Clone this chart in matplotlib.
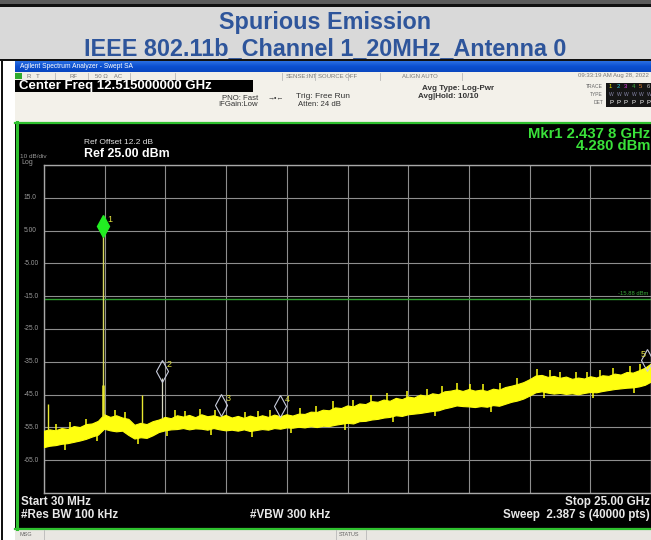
import numpy as np
import matplotlib
matplotlib.use('Agg')
import matplotlib.pyplot as plt
from matplotlib.patches import Rectangle
from matplotlib.transforms import offset_copy

plt.rcParams['font.family'] = ['Liberation Sans', 'DejaVu Sans']

# ---- chart values ----
title_lines = ["Spurious Emission", "IEEE 802.11b_Channel 1_20MHz_Antenna 0"]
start_ghz, stop_ghz = 0.03, 25.0
ref_level_dbm, db_per_div = 25.0, 10.0
y_tick_labels = ["15.0", "5.00", "-5.00", "-15.0", "-25.0", "-35.0", "-45.0", "-55.0", "-65.0"]
display_line_dbm = -15.88

# noise floor envelope (top / bottom of the yellow band), every 0.25 GHz
noise_freq_ghz = [0.03] + [0.25 * k for k in range(1, 101)]
noise_top_dbm = [
    -56.0, -55.6, -55.9, -55.2, -55.5, -54.6, -54.9, -54.0, -53.8, -53.0,
    -51.0, -51.8, -51.3, -52.0, -52.4, -54.2, -53.6, -54.0, -53.1, -52.6,
    -51.8, -52.2, -51.3, -51.7, -51.2, -51.9, -51.0, -51.6, -51.3, -51.8,
    -51.2, -52.0, -51.5, -52.1, -51.4, -51.9, -51.3, -51.8, -51.1, -51.6,
    -51.0, -51.4, -50.8, -50.9, -50.2, -50.3, -49.6, -49.8, -48.9, -49.1,
    -48.3, -48.6, -47.7, -47.9, -47.0, -47.2, -46.5, -46.9, -46.0, -46.4,
    -45.6, -45.9, -45.0, -45.4, -44.6, -44.9, -44.0, -43.8, -43.4, -43.9,
    -43.3, -43.8, -43.5, -43.9, -43.2, -43.5, -42.7, -42.3, -41.8, -41.2,
    -40.3, -39.2, -39.0, -39.6, -39.3, -39.9, -39.5, -40.2, -39.8, -40.1,
    -39.4, -39.8, -39.1, -39.3, -38.6, -38.9, -38.1, -38.3, -37.6, -36.8,
    -35.5,
]
noise_bottom_dbm = [
    -61.0, -60.6, -60.4, -60.0, -59.8, -59.4, -59.0, -58.5, -57.8, -57.2,
    -55.4, -55.9, -56.2, -56.0, -57.3, -58.4, -58.0, -58.2, -57.4, -56.4,
    -55.9, -55.6, -55.5, -55.2, -55.6, -55.3, -55.4, -55.7, -55.2, -55.6,
    -55.9, -55.7, -56.0, -55.6, -56.1, -55.8, -55.5, -55.7, -55.2, -55.4,
    -55.0, -55.1, -54.8, -55.0, -54.6, -54.9, -54.5, -54.6, -54.2, -53.9,
    -53.6, -53.8, -53.1, -53.0, -52.6, -52.4, -52.0, -51.8, -51.3, -51.5,
    -51.0, -50.8, -50.6, -50.3, -50.0, -49.8, -49.2, -48.8, -48.3, -48.5,
    -48.6, -48.8, -48.5, -48.7, -48.2, -48.4, -47.8, -47.2, -46.8, -46.2,
    -45.3, -44.3, -44.0, -44.4, -44.7, -44.5, -44.8, -44.6, -44.9, -44.5,
    -44.2, -44.3, -43.9, -43.6, -43.3, -43.1, -42.9, -42.8, -42.5, -42.0,
    -41.0,
]

# short noise peaks poking out of the band (tips)
grass_up_ghz = [0.52, 1.10, 1.75, 2.95, 3.36, 5.42, 5.83, 6.45, 7.05, 8.30, 8.85, 9.33,
                10.56, 11.20, 11.92, 12.74, 13.50, 14.14, 14.96, 15.78, 16.40, 17.00,
                17.55, 18.10, 18.79, 19.49, 20.30, 20.85, 21.26, 21.90, 22.37, 22.90,
                23.44, 24.14, 24.55]
grass_up_dbm = [-54.0, -53.4, -52.3, -49.6, -50.2, -49.8, -50.0, -49.3, -49.8, -50.2,
                -50.0, -49.8, -49.0, -48.4, -47.0, -46.6, -45.2, -44.5, -43.8, -43.2,
                -42.3, -41.6, -41.7, -41.8, -41.5, -40.0, -37.3, -37.6, -38.0, -38.2,
                -38.1, -37.4, -36.9, -36.3, -35.6]
grass_down_ghz = [0.90, 2.20, 3.90, 5.10, 6.90, 8.60, 10.20, 12.40, 14.40, 16.10, 18.40,
                  20.60, 22.60, 24.30]
grass_down_dbm = [-62.0, -59.0, -60.0, -57.6, -57.2, -57.8, -56.8, -55.9, -53.4, -51.6,
                  -50.3, -45.9, -46.0, -44.6]

# discrete spurs standing above the floor
spur_freq_ghz = [0.20, 4.06, 4.875]
spur_top_dbm = [-48.0, -45.0, -39.9]

# markers 1..5
marker_ids = ["1", "2", "3", "4", "5"]
marker_freq_ghz = [2.4378, 4.875, 7.312, 9.75, 24.84]
marker_dbm = [4.28, -39.9, -50.3, -50.6, -36.6]

W, H = 651, 540
fig = plt.figure(figsize=(W / 100, H / 100), dpi=100)
bg = fig.add_axes([0, 0, 1, 1])
bg.set_xlim(0, W)
bg.set_ylim(H, 0)
bg.axis('off')


def rect(x0, y0, x1, y1, color, z=0, **kw):
    bg.add_patch(Rectangle((x0, y0), x1 - x0, y1 - y0, facecolor=color,
                           edgecolor='none', zorder=z, **kw))


# report page: title box
rect(0, 0, W, 4, '#5c5c5c')
rect(0, 4, W, 7, '#111111')
rect(0, 7, W, 60, '#d9d9d9')
rect(0, 59, W, 61, '#111111')
rect(0, 61, W, H, 'white')
rect(0.5, 61, 2.5, H, '#111111')
bg.text(W / 2, 28.5, title_lines[0], ha='center', va='baseline', fontsize=16.8,
        fontweight='bold', color='#2e559b')
bg.text(W / 2, 55, title_lines[1], ha='center', va='baseline', fontsize=16.8,
        fontweight='bold', color='#2e559b')

# analyzer window chrome
grad = np.linspace(0, 1, 20).reshape(-1, 1)
bg.imshow(grad, extent=(15, W, 72, 61), cmap=matplotlib.colors.LinearSegmentedColormap.from_list(
    'xpbar', ['#2a6ee0', '#0b4fd0', '#0846c0']), aspect='auto', zorder=1)
bg.text(20, 66.5, "Agilent Spectrum Analyzer - Swept SA", fontsize=4.8, color='white',
        va='center', zorder=2)
rect(15, 72, W, 80, '#f1efe8', z=1)
rect(15, 73, 22, 79, '#2faa2f', z=2)
tool_labels = [(27, "R   T"), (70, "RF"), (95, "50 \u03a9    AC"), (286, "SENSE:INT"),
               (318, "SOURCE OFF"), (402, "ALIGN AUTO")]
for x, s in tool_labels:
    bg.text(x, 76, s, fontsize=4.3, color='#777777', va='center', zorder=2)
for x in [55, 88, 130, 175, 282, 315, 348, 380, 462]:
    bg.plot([x, x], [72.5, 79.5], color='#b8b8b8', lw=0.6, zorder=2)
bg.text(649, 76, "09:33:19 AM Aug 28, 2022", fontsize=4.3, color='#777777', va='center',
        ha='right', zorder=2)

rect(15, 80, W, 122, '#f3f1ea', z=1)
rect(15, 80, 253, 92, 'black', z=2)
bg.text(19, 86.5, "Center Freq 12.515000000 GHz", fontsize=9.5, fontweight='bold',
        color='white', va='center', zorder=3)
bg.text(222, 98, "PNO: Fast", fontsize=5.6, color='#333333', va='center', zorder=3)
bg.text(218, 105, "IFGain:Low", fontsize=5.6, color='#333333', va='center', zorder=3)
bg.text(268, 98, "\u2192\u2022\u2190", fontsize=5, color='#333333', va='center', zorder=3)
bg.text(296, 97, "Trig: Free Run", fontsize=6.0, color='#333333', va='center', zorder=3)
bg.text(298, 105, "Atten: 24 dB", fontsize=5.6, color='#333333', va='center', zorder=3)
bg.text(422, 89, "Avg Type: Log-Pwr", fontsize=5.8, fontweight='bold', color='#333333',
        va='center', zorder=3)
bg.text(418, 96.5, "Avg|Hold: 10/10", fontsize=5.8, fontweight='bold', color='#333333',
        va='center', zorder=3)
for y, s in [(87, "TRACE"), (95, "TYPE"), (103, "DET")]:
    bg.text(603, y, s, fontsize=3.6, color='#666666', va='center', ha='right', zorder=3)
rect(606, 83, W, 107, '#151515', z=2)
trace_colors = ['#f0f000', '#30d0e0', '#e040e0', '#40b040', '#e08030', '#c0c0c0']
for i, c in enumerate(trace_colors):
    bg.text(609 + i * 7.5, 87, str(i + 1), fontsize=4.3, color=c, va='center', zorder=3)
    bg.text(609 + i * 7.5, 95, "W", fontsize=3.6, color='#8888aa', va='center', zorder=3)
    bg.text(609 + i * 7.5, 103, "P", fontsize=4.3, color='white', va='center', zorder=3)

# display area
rect(15, 122, W, 529, 'black', z=1)
bg.plot([15, W], [122.5, 122.5], color='#2ec02e', lw=1.6, zorder=2)
bg.plot([16.5, 16.5], [122, 529], color='#2ec02e', lw=2.2, zorder=2)
bg.plot([15, W], [528.5, 528.5], color='#2ec02e', lw=1.6, zorder=2)
rect(15, 529.5, W, H, '#e9e7e2', z=1)
bg.text(20, 535, "MSG", fontsize=4, color='#666666', va='center', zorder=2)
bg.plot([44, 44], [530, 540], color='#b8b8b8', lw=0.6, zorder=2)
bg.text(339, 535, "STATUS", fontsize=4, color='#666666', va='center', zorder=2)
bg.plot([336, 336], [530, 540], color='#b8b8b8', lw=0.6, zorder=2)
bg.plot([366, 366], [530, 540], color='#b8b8b8', lw=0.6, zorder=2)

bg.text(84, 143, "Ref Offset 12.2 dB", fontsize=6, color='#dddddd', va='center', zorder=3)
bg.text(84, 154, "Ref 25.00 dBm", fontsize=8.9, fontweight='bold', color='white',
        va='center', zorder=3)
bg.text(20, 156, "10 dB/div", fontsize=4.6, color='#999999', va='center', zorder=3)
bg.text(21, 163, "Log", fontsize=5, color='#999999', va='center', zorder=3)
bg.text(650, 133.5, "Mkr1 2.437 8 GHz", fontsize=10.7, fontweight='bold', color='#3ae23a',
        va='center', ha='right', zorder=3)
bg.text(650, 146.5, "4.280 dBm", fontsize=10.7, fontweight='bold', color='#3ae23a',
        va='center', ha='right', zorder=3)
bg.text(21, 502, "Start 30 MHz", fontsize=8.4, fontweight='bold', color='#e8e8e8',
        va='center', zorder=3)
bg.text(21, 515, "#Res BW 100 kHz", fontsize=8.4, fontweight='bold', color='#e8e8e8',
        va='center', zorder=3)
bg.text(250, 515, "#VBW 300 kHz", fontsize=8.4, fontweight='bold', color='#e8e8e8',
        va='center', zorder=3)
bg.text(650, 502, "Stop 25.00 GHz", fontsize=8.4, fontweight='bold', color='#e8e8e8',
        va='center', ha='right', zorder=3)
bg.text(650, 515, "Sweep  2.387 s (40000 pts)", fontsize=8.4, fontweight='bold',
        color='#e8e8e8', va='center', ha='right', zorder=3)

# ---- spectrum graticule ----
ax = fig.add_axes([44 / W, 1 - 493 / H, 607 / W, 328 / H])
ax.set_facecolor('none')
bottom_dbm = ref_level_dbm - 10 * db_per_div
ax.set_xlim(start_ghz, stop_ghz)
ax.set_ylim(bottom_dbm, ref_level_dbm)
ax.set_xticks(np.linspace(start_ghz, stop_ghz, 11))
ax.set_yticks(np.arange(bottom_dbm, ref_level_dbm + 1, db_per_div))
ax.tick_params(length=0, labelbottom=False, labelleft=False)
ax.grid(True, color='#8e8e8e', lw=0.8)
for s in ax.spines.values():
    s.set_color('#a8a8a8')
    s.set_linewidth(1.0)

ytr = ax.get_yaxis_transform()
for k, lab in enumerate(y_tick_labels):
    lvl = ref_level_dbm - db_per_div * (k + 1)
    ax.text(-0.034, lvl, lab, transform=ytr, fontsize=4.8, color='#9a9a9a',
            va='center', ha='left', clip_on=False)

# display line
ax.axhline(display_line_dbm, color='#2f9e2f', lw=1.0)
ax.text(0.995, display_line_dbm + 1.0, "%.2f dBm" % display_line_dbm, transform=ytr,
        fontsize=4.2, color='#3aa83a', ha='right', va='bottom')

# trace
yellow = '#ffff10'
ax.fill_between(noise_freq_ghz, noise_bottom_dbm, noise_top_dbm, color=yellow,
                lw=0.8, edgecolor=yellow, zorder=3)
top_at = np.interp(grass_up_ghz, noise_freq_ghz, noise_top_dbm)
ax.vlines(grass_up_ghz, top_at - 0.5, grass_up_dbm, color=yellow, lw=1.1, zorder=3)
bot_at = np.interp(grass_down_ghz, noise_freq_ghz, noise_bottom_dbm)
ax.vlines(grass_down_ghz, bot_at + 0.5, grass_down_dbm, color=yellow, lw=1.1, zorder=3)
base = np.interp(spur_freq_ghz, noise_freq_ghz, noise_top_dbm)
ax.vlines(spur_freq_ghz[:2], base[:2], spur_top_dbm[:2], color='#e8e830', lw=1.0, zorder=3)
ax.vlines(spur_freq_ghz[2:], base[2:], spur_top_dbm[2:], color='#d8d8c0', lw=0.9, zorder=3)
carrier_base = np.interp(marker_freq_ghz[0], noise_freq_ghz, noise_top_dbm)
ax.vlines(marker_freq_ghz[0], carrier_base, marker_dbm[0], color='#d8d860', lw=1.0, zorder=3)
ax.vlines(marker_freq_ghz[0], carrier_base, -42.0, color='#e8e830', lw=1.8, zorder=3)

# markers (diamond sits on the point, tip down)
up = offset_copy(ax.transData, fig=fig, x=0, y=7, units='dots')
ax.plot(marker_freq_ghz[0], marker_dbm[0], 'd', color='#22ee22', ms=11, mec='#22ee22',
        transform=up, zorder=5, clip_on=False)
ax.plot(marker_freq_ghz[1:], marker_dbm[1:], 'd', ls='none', mfc='none', mec='#c8ccdc',
        mew=0.8, ms=11, transform=up, zorder=5, clip_on=True)
for i, (mid, f, v) in enumerate(zip(marker_ids, marker_freq_ghz, marker_dbm)):
    dx = -4 if i == len(marker_ids) - 1 else 5
    ax.annotate(mid, (f, v), xytext=(dx, 13), textcoords='offset pixels', fontsize=6.5,
                color='#e0e040', ha='left' if dx > 0 else 'center', va='center', zorder=6,
                annotation_clip=False)

fig.savefig('out.png', dpi=100)
